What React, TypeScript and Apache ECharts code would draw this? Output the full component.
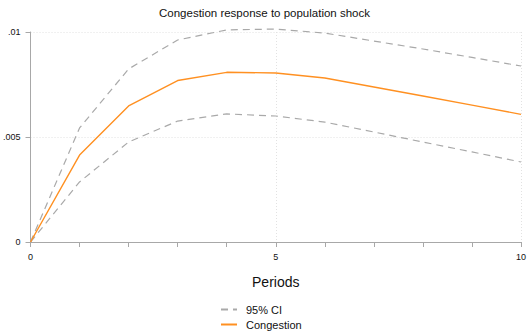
import React, { useEffect, useRef } from "react";
import * as echarts from "echarts";

// Impulse response of congestion to a population shock, periods 0..10
const periods = [0, 1, 2, 3, 4, 5, 6, 7, 8, 9, 10];
const congestion = [0, 0.00414, 0.00648, 0.00769, 0.00808, 0.00805, 0.00781, 0.00738, 0.00695, 0.00652, 0.00608];
const ciUpper = [0, 0.00543, 0.00824, 0.00962, 0.0101, 0.01014, 0.00995, 0.00957, 0.00919, 0.00879, 0.00838];
const ciLower = [0, 0.00286, 0.00476, 0.00576, 0.0061, 0.006, 0.00571, 0.00524, 0.00476, 0.00429, 0.00381];
const yTickLabels: Record<string, string> = { "0": "0", "0.005": ".005", "0.01": ".01" };

const FONT = "Liberation Sans, Arial, sans-serif";
const AXIS_GRAY = "#a8a8a8";
const GRID_GRAY = "#e2e2e2";
const CI_GRAY = "#a9a9a9";
const ORANGE = "#ff9021";

const pairs = (ys: number[]) => periods.map((p, i) => [p, ys[i]]);

export default function App() {
  const ref = useRef<HTMLDivElement>(null);

  useEffect(() => {
    if (!ref.current) return;
    const chart = echarts.init(ref.current, undefined, { renderer: "svg" });
    chart.setOption({
      animation: false,
      backgroundColor: "#ffffff",
      textStyle: { fontFamily: FONT },
      title: {
        text: "Congestion response to population shock",
        left: "center",
        top: 2,
        textStyle: { fontFamily: FONT, fontSize: 11.5, fontWeight: "normal", color: "#111" },
      },
      grid: { left: 28, right: 7, top: 32, bottom: 94 },
      xAxis: [
        {
          type: "value",
          min: 0,
          max: 10,
          interval: 1,
          offset: 6,
          name: "Periods",
          nameLocation: "middle",
          nameGap: 27,
          nameTextStyle: { fontFamily: FONT, fontSize: 14, color: "#111" },
          axisLine: { show: true, lineStyle: { color: AXIS_GRAY, width: 1 } },
          axisTick: { show: true, length: 5, lineStyle: { color: AXIS_GRAY } },
          axisLabel: {
            fontFamily: FONT,
            fontSize: 9,
            color: "#111",
            margin: 4,
            formatter: (v: number) => (v % 5 === 0 ? String(v) : ""),
          },
          splitLine: { show: false },
        },
        {
          type: "value",
          min: 0,
          max: 10,
          interval: 5,
          position: "bottom",
          axisLine: { show: false },
          axisTick: { show: false },
          axisLabel: { show: false },
          splitLine: { show: true, lineStyle: { color: GRID_GRAY, type: [1, 2], width: 1 } },
        },
      ],
      yAxis: {
        type: "value",
        min: 0,
        max: 0.01,
        interval: 0.005,
        offset: 7,
        axisLine: { show: true, lineStyle: { color: AXIS_GRAY, width: 1 } },
        axisTick: { show: true, length: 5, lineStyle: { color: AXIS_GRAY } },
        axisLabel: {
          fontFamily: FONT,
          fontSize: 9,
          color: "#111",
          margin: 3,
          formatter: (v: number) => yTickLabels[String(v)] ?? String(v),
        },
        splitLine: { show: true, lineStyle: { color: GRID_GRAY, type: [1, 2], width: 1 } },
      },
      legend: {
        orient: "vertical",
        left: 220,
        top: 304,
        bottom: 0,
        padding: 0,
        itemWidth: 16,
        itemHeight: 12,
        itemGap: 4,
        data: ["95% CI", "Congestion"],
        itemStyle: { opacity: 0 },
        textStyle: { fontFamily: FONT, fontSize: 11, color: "#111", padding: [0, 0, 0, 4] },
      },
      series: [
        {
          name: "95% CI",
          type: "line",
          xAxisIndex: 0,
          data: pairs(ciUpper),
          symbol: "none",
          clip: false,
          lineStyle: { color: CI_GRAY, width: 1.2, type: [7, 5] },
          itemStyle: { color: CI_GRAY },
        },
        {
          name: "95% CI",
          type: "line",
          xAxisIndex: 0,
          data: pairs(ciLower),
          symbol: "none",
          clip: false,
          lineStyle: { color: CI_GRAY, width: 1.2, type: [7, 5] },
          itemStyle: { color: CI_GRAY },
        },
        {
          name: "Congestion",
          type: "line",
          xAxisIndex: 0,
          data: pairs(congestion),
          symbol: "none",
          clip: false,
          lineStyle: { color: ORANGE, width: 1.4 },
          itemStyle: { color: ORANGE },
        },
      ],
    });
    return () => chart.dispose();
  }, []);

  return <div ref={ref} style={{ width: 529, height: 336, position: "fixed", left: 0, top: 0 }} />;
}
